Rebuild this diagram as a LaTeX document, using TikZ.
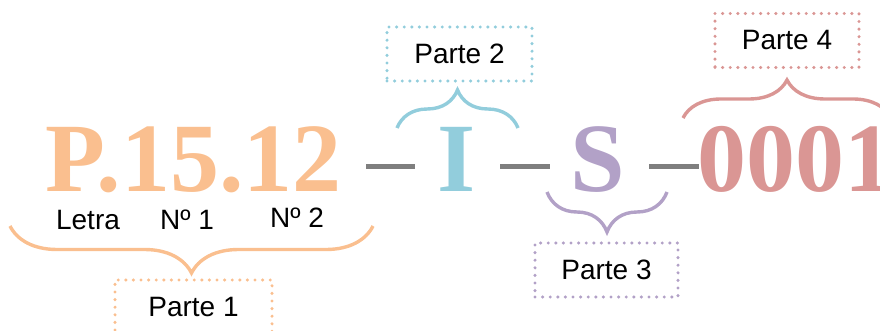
\documentclass[tikz,border=0pt]{standalone}
\usepackage{fontspec}
\setmainfont{Liberation Sans}
\newfontfamily\bigserif{Liberation Serif}
\usetikzlibrary{decorations.pathreplacing}
\definecolor{corange}{HTML}{FABF8F}
\definecolor{cblue}{HTML}{92CDDC}
\definecolor{cpurple}{HTML}{B2A1C7}
\definecolor{cred}{HTML}{DA9694}
\definecolor{cgray}{HTML}{7F7F7F}
\tikzset{
  bigtxt/.style={inner sep=0pt, font=\bigserif\bfseries\fontsize{98}{98}\selectfont},
  lbl/.style={inner sep=0pt, font=\fontsize{28}{28}\selectfont, text=black},
  partbox/.style={draw, line width=3.4pt, line cap=round, dash pattern=on 0pt off 7.6pt,
     minimum width=#1, minimum height=54pt, inner sep=0pt, font=\fontsize{28}{28}\selectfont, text=black},
  sepline/.style={cgray, line width=5pt},
  bracel/.style={decorate, decoration={brace, amplitude=#1}, line width=3.4pt}
}
\begin{document}
\begin{tikzpicture}[x=1pt,y=-1pt]
\useasboundingbox (0,0) rectangle (880,331);
% big code
\node[bigtxt, text=corange, anchor=base] (p1) at (193.5,191) {P.15.12};
\node[bigtxt, text=cblue, anchor=base] (p2) at (457,191) {I};
\node[bigtxt, text=cpurple, anchor=base] (p3) at (597.5,191) {S};
\node[bigtxt, text=cred, anchor=base west] (p4) at (697,191) {0001};
% separators
\coordinate (s1a) at (366,167); \coordinate (s1b) at (415,167);
\coordinate (s2a) at (500,167); \coordinate (s2b) at (550,167);
\coordinate (s3a) at (649,167); \coordinate (s3b) at (699,167);
\draw[sepline] (s1a) -- (s1b);
\draw[sepline] (s2a) -- (s2b);
\draw[sepline] (s3a) -- (s3b);
% sub labels
\node[lbl, anchor=base] (letra) at (88,229) {Letra};
\node[lbl, anchor=base] (n1) at (187,229) {Nº 1};
\node[lbl, anchor=base] (n2) at (297,227) {Nº 2};
% boxes
\node[partbox=157pt, corange] (b1) at (193.5,307) {\textcolor{black}{Parte 1}};
\node[partbox=145pt, cblue] (b2) at (459.5,54) {\textcolor{black}{Parte 2}};
\node[partbox=143pt, cpurple] (b3) at (606.5,270) {\textcolor{black}{Parte 3}};
\node[partbox=144pt, cred] (b4) at (787,40.5) {\textcolor{black}{Parte 4}};
% braces
\coordinate (br1a) at (373,226); \coordinate (br1b) at (10,226);
\coordinate (br2a) at (397,128); \coordinate (br2b) at (518,128);
\coordinate (br3a) at (667,192); \coordinate (br3b) at (547,192);
\coordinate (br4a) at (683,118); \coordinate (br4b) at (891,118);
\draw[bracel=47pt, corange] (br1a) -- (br1b);
\draw[bracel=38pt, cblue] (br2a) -- (br2b);
\draw[bracel=40pt, cpurple] (br3a) -- (br3b);
\draw[bracel=38pt, cred] (br4a) -- (br4b);
\end{tikzpicture}
\end{document}
